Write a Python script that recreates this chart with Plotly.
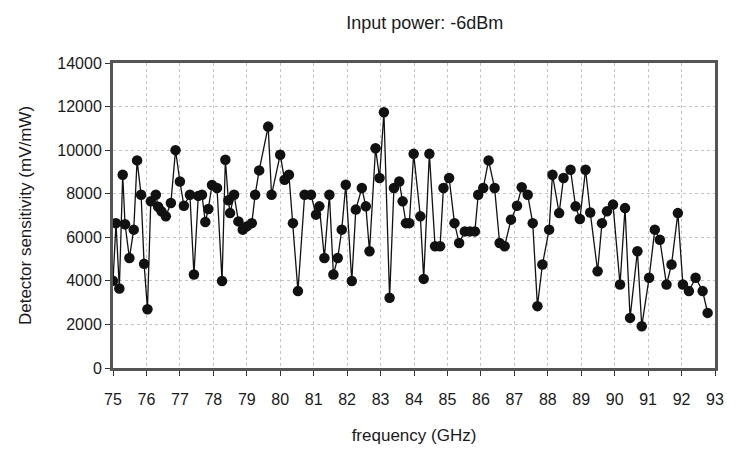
import plotly.graph_objects as go

freq_ghz = [
    75.0, 75.09, 75.19, 75.29, 75.36, 75.49, 75.62, 75.72, 75.84, 75.93,
    76.03, 76.13, 76.28, 76.35, 76.45, 76.58, 76.73, 76.87, 77.0, 77.12,
    77.3, 77.42, 77.55, 77.66, 77.76, 77.85, 77.96, 78.11, 78.26, 78.36,
    78.45, 78.5, 78.62, 78.75, 78.88, 79.0, 79.15, 79.25, 79.37, 79.64,
    79.74, 80.0, 80.13, 80.26, 80.38, 80.53, 80.73, 80.92, 81.07, 81.17,
    81.32, 81.47, 81.59, 81.72, 81.84, 81.96, 82.14, 82.26, 82.44, 82.56,
    82.67, 82.85, 82.97, 83.1, 83.27, 83.4, 83.56, 83.66, 83.76, 83.86,
    83.99, 84.19, 84.29, 84.46, 84.63, 84.78, 84.88, 85.05, 85.21, 85.35,
    85.52, 85.67, 85.82, 85.92, 86.07, 86.23, 86.41, 86.56, 86.71, 86.9,
    87.08, 87.22, 87.4, 87.55, 87.69, 87.84, 88.04, 88.14, 88.34, 88.47,
    88.68, 88.83, 88.96, 89.13, 89.27, 89.49, 89.62, 89.77, 89.95, 90.16,
    90.31, 90.46, 90.68, 90.81, 91.03, 91.2, 91.35, 91.55, 91.7, 91.89,
    92.04, 92.22, 92.42, 92.63, 92.78,
]

sensitivity = [
    4000, 6650, 3650, 8870, 6600, 5050, 6350, 9530, 7950, 4780,
    2700, 7650, 7950, 7400, 7190, 6960, 7570, 10000, 8560, 7450,
    7950, 4290, 7900, 7950, 6700, 7300, 8400, 8260, 3990, 9560,
    7700, 7110, 7950, 6730, 6350, 6500, 6650, 7950, 9070, 11080,
    7950, 9790, 8640, 8870, 6650, 3530, 7950, 7950, 7040, 7420,
    5050, 7950, 4290, 5050, 6350, 8410, 3990, 7270, 8260, 7420,
    5360, 10090, 8720, 11740, 3220, 8260, 8560, 7650, 6650, 6650,
    9830, 6960, 4090, 9830, 5590, 5590, 8260, 8720, 6650, 5740,
    6270, 6270, 6270, 7950, 8260, 9530, 8260, 5740, 5590, 6810,
    7450, 8300, 7950, 6650, 2840, 4750, 6350, 8870, 7110, 8720,
    9100, 7420, 6840, 9100, 7140, 4440, 6650, 7190, 7500, 3830,
    7340, 2300, 5360, 1920, 4140, 6350, 5890, 3830, 4750, 7110,
    3830, 3530, 4140, 3530, 2530,
]

x_ticks = list(range(75, 94))
y_ticks = list(range(0, 14001, 2000))

fig = go.Figure()
fig.add_trace(go.Scatter(
    x=freq_ghz, y=sensitivity, mode="lines+markers",
    line=dict(color="#111111", width=1.3),
    marker=dict(color="#111111", size=10.5, symbol="circle"),
    showlegend=False,
))

font_family = "Liberation Sans, Arial, sans-serif"
txt = "#1a1a1a"

fig.update_layout(
    width=736, height=455,
    margin=dict(l=113, r=16, t=63, b=87),
    paper_bgcolor="white", plot_bgcolor="white",
    font=dict(family=font_family, color=txt, size=16),
    title=dict(text="Input power: -6dBm", x=0.577, xanchor="center",
               y=0.951, yanchor="middle",
               font=dict(size=18, family=font_family, color=txt)),
    xaxis=dict(
        range=[75, 93], tickvals=x_ticks, ticktext=[str(v) for v in x_ticks],
        showgrid=True, gridcolor="#c4c4c4", griddash="dot", gridwidth=1,
        showline=True, linecolor="#555555", linewidth=3, mirror=True,
        ticks="outside", ticklen=5, tickcolor="#333333", tickwidth=1,
        ticklabelstandoff=10,
        zeroline=False,
        title=dict(text="frequency (GHz)", font=dict(size=17), standoff=22),
        tickfont=dict(size=16),
    ),
    yaxis=dict(
        range=[0, 14000], tickvals=y_ticks, ticktext=[str(v) for v in y_ticks],
        showgrid=True, gridcolor="#c4c4c4", griddash="dot", gridwidth=1,
        showline=True, linecolor="#555555", linewidth=3, mirror=True,
        ticks="outside", ticklen=5, tickcolor="#333333", tickwidth=1,
        zeroline=False,
        title=dict(text="Detector sensitivity (mV/mW)", font=dict(size=17), standoff=22),
        tickfont=dict(size=16),
    ),
)

fig.write_html("out.html")
